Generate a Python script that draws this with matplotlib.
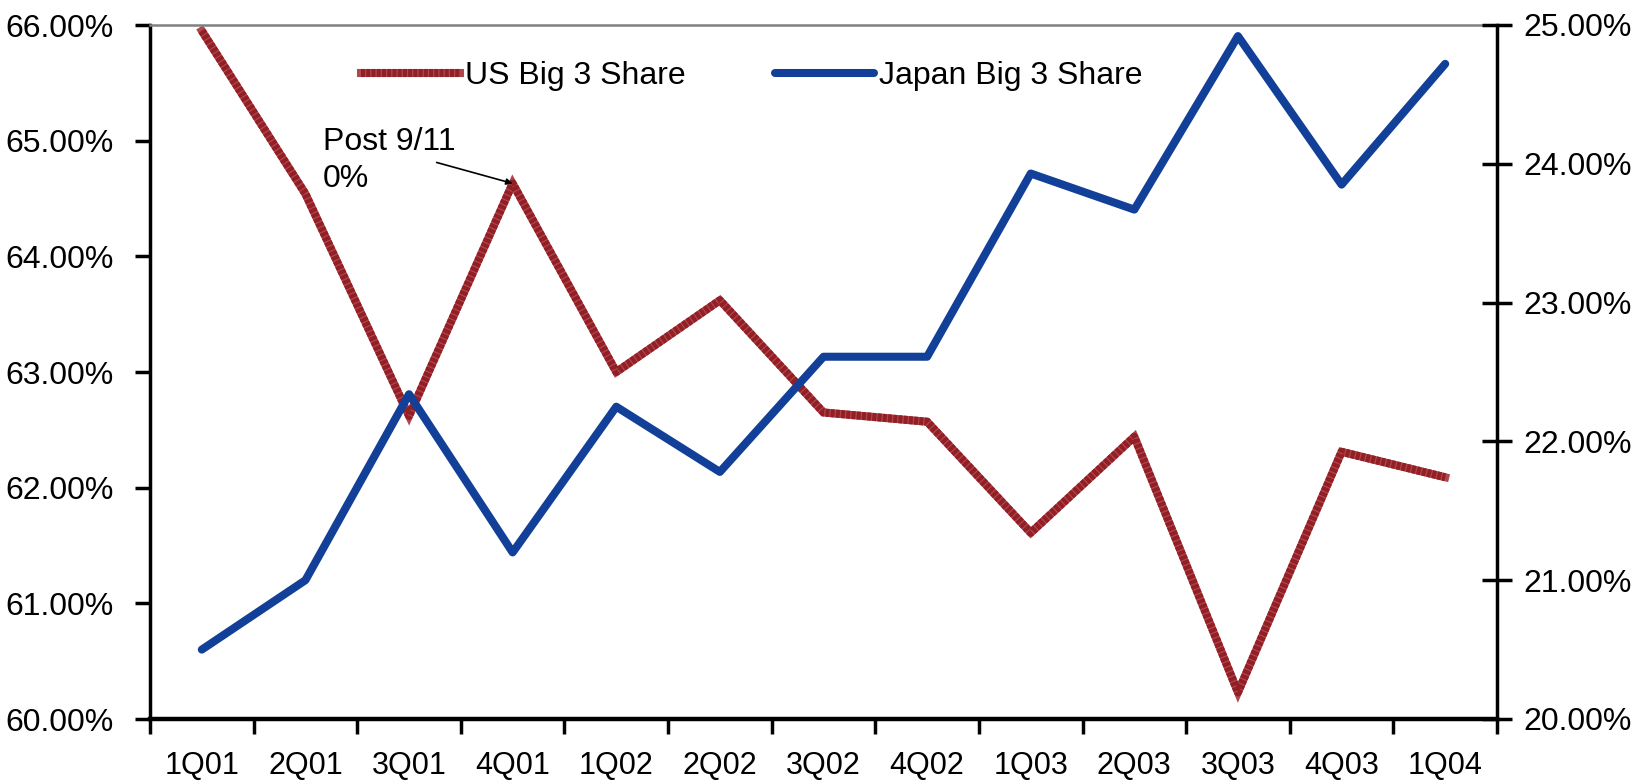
import numpy as np
import matplotlib
matplotlib.use("Agg")
import matplotlib.pyplot as plt
from matplotlib.ticker import FuncFormatter, FixedLocator
from matplotlib.legend_handler import HandlerTuple

plt.rcParams['font.family'] = ['Liberation Sans', 'DejaVu Sans']

quarters = ['1Q01', '2Q01', '3Q01', '4Q01', '1Q02', '2Q02', '3Q02',
            '4Q02', '1Q03', '2Q03', '3Q03', '4Q03', '1Q04']
us_share = [65.95, 64.54, 62.62, 64.63, 63.00, 63.62, 62.65,
            62.57, 61.61, 62.44, 60.23, 62.31, 62.09]
japan_share = [20.50, 21.00, 22.34, 21.20, 22.25, 21.78, 22.61,
               22.61, 23.93, 23.67, 24.92, 23.85, 24.72]
left_ticks = [60, 61, 62, 63, 64, 65, 66]
right_ticks = [20, 21, 22, 23, 24, 25]

red = '#931f26'
red_light = '#b0474d'
blue = '#123f98'

fig = plt.figure(figsize=(16.4, 7.82), dpi=100)
fig.subplots_adjust(left=150/1640, right=1497/1640, top=1-25/782, bottom=1-719/782)
ax = fig.add_subplot(111)
ax2 = ax.twinx()

x = np.arange(len(quarters))

# US line: lighter base with darker dashes on top for the textured look
us_base, = ax.plot(x, us_share, color=red_light, lw=5.8, solid_joinstyle='miter')
us_top, = ax.plot(x, us_share, color=red, lw=5.8, dashes=(0.5, 0.15))
jp_line, = ax2.plot(x, japan_share, color=blue, lw=5.8, solid_capstyle='round')

ax.set_xlim(-0.5, len(quarters) - 0.5)
ax.set_ylim(60, 66)
ax2.set_ylim(20, 25)

pct = FuncFormatter(lambda v, p: f"{v:.2f}%")
ax.yaxis.set_major_locator(FixedLocator(left_ticks))
ax.yaxis.set_major_formatter(pct)
ax2.yaxis.set_major_locator(FixedLocator(right_ticks))
ax2.yaxis.set_major_formatter(pct)

# category boundaries as ticks, labels at centers
ax.set_xticks(np.arange(-0.5, len(quarters)), labels=[])
ax.set_xticks(x, labels=quarters, minor=True)
ax.tick_params(axis='x', which='major', direction='out', length=11, width=2.5, color='black')
ax.tick_params(axis='x', which='minor', length=0, labelsize=22, pad=23)
ax.tick_params(axis='y', direction='out', length=11, width=2.5, labelsize=23, pad=15)
ax2.tick_params(axis='y', direction='inout', length=22, width=2.5, labelsize=23, pad=8)

for s in ['left', 'bottom']:
    ax.spines[s].set_color('black')
ax.spines['left'].set_linewidth(2.5)
ax.spines['bottom'].set_linewidth(3.2)
ax.spines['right'].set_visible(False)
ax.spines['top'].set_color('#808080')
ax.spines['top'].set_linewidth(1.8)
ax2.spines['right'].set_linewidth(2.5)
ax2.spines['right'].set_color('black')
for s in ['left', 'bottom', 'top']:
    ax2.spines[s].set_visible(False)

# annotation on 4Q01
ax.annotate("", xy=(3, us_share[3]), xytext=(-76, 21), textcoords='offset pixels',
            arrowprops=dict(arrowstyle='-|>', color='black', lw=1.2,
                            mutation_scale=9, shrinkA=0, shrinkB=0))
ax.annotate("Post 9/11\n0%", xy=(3, us_share[3]), xytext=(-190, 56),
            textcoords='offset pixels', ha='left', va='top', fontsize=23,
            linespacing=1.3)

leg = ax2.legend([(us_base, us_top), jp_line], ['US Big 3 Share', 'Japan Big 3 Share'],
                 handler_map={tuple: HandlerTuple(ndivide=1, pad=0)},
                 loc='center left', bbox_to_anchor=((361-150)/1347, (718-76)/693),
                 ncol=2, frameon=False, fontsize=23, handlelength=3.1,
                 handletextpad=0.15, columnspacing=2.8, borderpad=0, borderaxespad=0)

fig.savefig('out.png', dpi=100, facecolor='white')
